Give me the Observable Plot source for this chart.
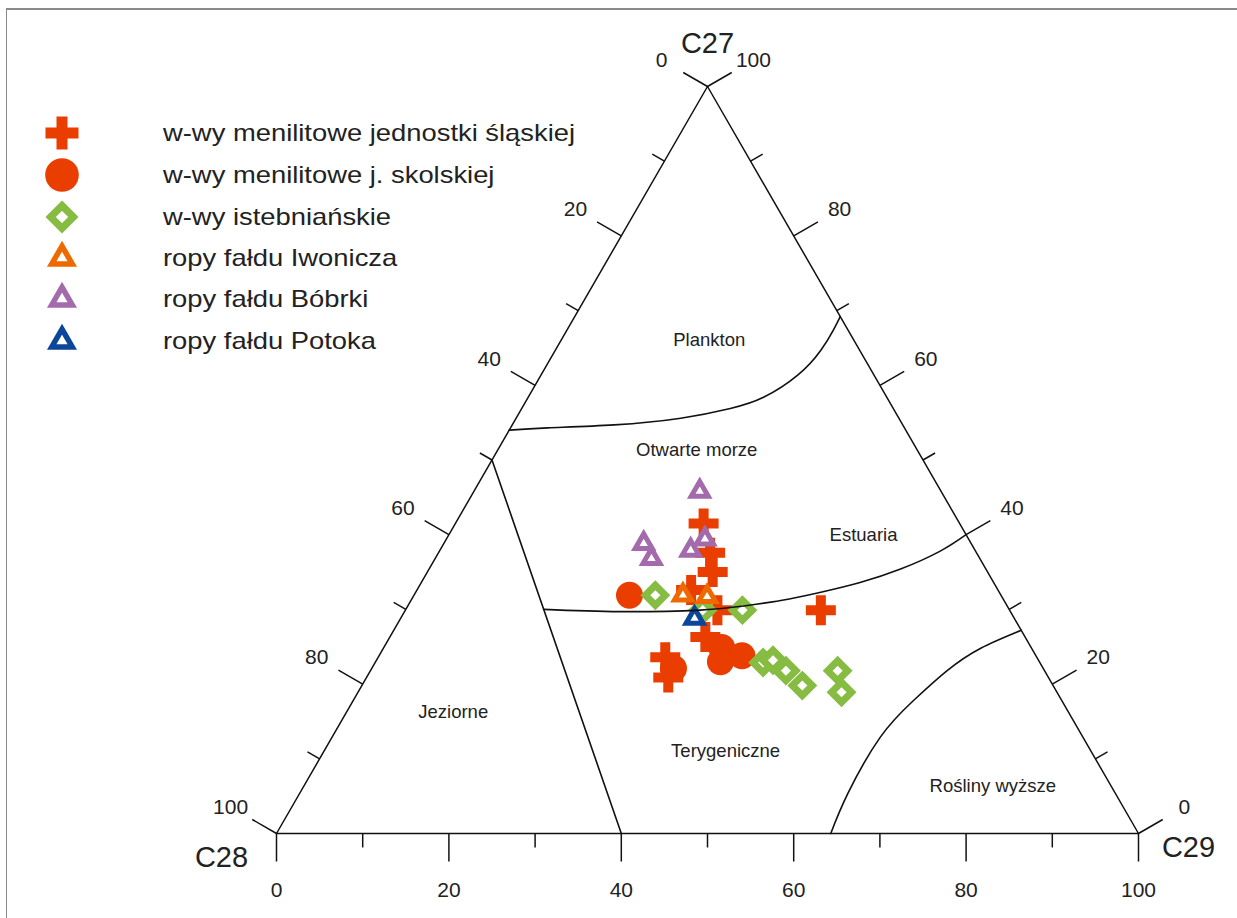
<!DOCTYPE html>
<html>
<head>
<meta charset="utf-8">
<script src="https://cdn.jsdelivr.net/npm/d3@7"></script>
<script src="https://cdn.jsdelivr.net/npm/@observablehq/plot@0.6"></script>
<style>
html,body{margin:0;padding:0;background:#fff;}
#wrap{position:relative;width:1237px;height:918px;overflow:hidden;font-family:"Liberation Sans",Arial,sans-serif;background:#fff;}
#chart{position:absolute;left:0;top:0;}
#border{position:absolute;left:6px;top:8px;width:1400px;height:1100px;border-top:2px solid #8a8a8a;border-left:1.5px solid #8a8a8a;pointer-events:none;}
.lg{position:absolute;left:0;width:620px;height:40px;}
.lg svg{position:absolute;left:42px;top:0;}
.lg span{position:absolute;left:163px;top:0;line-height:40px;font-size:24px;color:#222;white-space:nowrap;transform:scaleX(1.14);transform-origin:0 50%;}
</style>
</head>
<body>
<div id="wrap"><div id="chart"></div><div id="legend"></div><div id="border"></div></div>
<script>
// ---------- data (ternary: [C27, C28, C29] in %) ----------
const seriesNames = [
  "w-wy menilitowe jednostki śląskiej",
  "w-wy menilitowe j. skolskiej",
  "w-wy istebniańskie",
  "ropy fałdu Iwonicza",
  "ropy fałdu Bóbrki",
  "ropy fałdu Potoka"
];
const slaskie = [
  [41.5, 29.7, 28.8], [37.6, 30.9, 31.5], [35.0, 31.9, 33.1], [32.6, 35.6, 31.8],
  [29.9, 33.9, 36.2], [29.9, 21.9, 48.2], [26.3, 37.1, 36.6], [23.6, 43.1, 33.3],
  [20.9, 44.1, 35.0]
];
const skolskie = [
  [31.9, 43.1, 25.0], [22.1, 42.9, 35.0], [24.9, 35.9, 39.2], [23.0, 37.0, 40.0],
  [23.8, 34.1, 42.1]
];
const istebnianskie = [
  [31.9, 40.1, 28.0], [29.9, 35.6, 34.5], [29.9, 31.0, 39.1], [22.9, 32.1, 45.0],
  [23.2, 30.8, 46.0], [21.8, 30.0, 48.2], [19.8, 29.1, 51.1], [21.8, 24.0, 54.2],
  [18.9, 25.0, 56.1]
];
const iwonicz = [[31.9, 36.9, 31.2], [31.7, 34.2, 34.1]];
const bobrka = [
  [45.8, 28.0, 26.2], [38.8, 38.0, 23.2], [36.8, 38.1, 25.1], [37.9, 33.0, 29.1],
  [39.4, 30.6, 30.0]
];
const potok = [[28.8, 37.1, 34.1]];

// region boundaries
const jeziorneLine = [[50, 50, 0], [0, 60, 40]];
const terygeniczneLine = [
  [30, 54, 16], [29.7, 45.3, 25], [29.9, 35.9, 34.2], [30.4, 31, 38.6], [31.2, 25.9, 42.9],
  [32.3, 20.7, 47], [33.6, 15.5, 50.9], [35.4, 9.9, 54.7], [37.8, 4.1, 58.1], [40, 0, 60]
];
const planktonLine = [
  [54, 46, 0], [54.3, 41.4, 4.3], [54.7, 33.5, 11.8], [55.6, 25.3, 19.1], [56.9, 18.9, 24.2],
  [58.4, 14.3, 27.3], [61.4, 8.8, 29.8], [64.7, 4.5, 30.8], [67.4, 1.7, 30.9], [69.2, 0, 30.8]
];
const roslinyLine = [
  [0, 35.7, 64.3], [5.4, 31, 63.6], [12.9, 23.5, 63.6], [17.8, 17.2, 65], [21.8, 11.3, 66.9],
  [24.8, 5.9, 69.3], [27.2, 0, 72.8]
];
const regionNames = ["Plankton", "Otwarte morze", "Estuaria", "Jeziorne", "Terygeniczne", "Rośliny wyższe"];
const regionPos = [[66.0, 16.8, 17.2], [51.3, 25.6, 23.1], [40.0, 11.9, 48.1], [16.2, 71.4, 12.4], [11.0, 42.4, 46.6], [6.4, 13.7, 79.9]];
const tickValues = [0, 10, 20, 30, 40, 50, 60, 70, 80, 90, 100];
const tickLabels = ["0", "20", "40", "60", "80", "100"];
const vertexNames = ["C27", "C28", "C29"];

// ---------- geometry ----------
const SQ = Math.sqrt(3) / 2;
const toXY = ([a, b, c]) => { const s = a + b + c; a = a / s * 100; c = c / s * 100; return {x: c + a / 2, y: a * SQ}; };
const colors = ["#ea3d00", "#ea3d00", "#86bc41", "#ee6a00", "#a36bab", "#0b469b"];

const crossSym = {draw(p, size) { const a = Math.sqrt(size / Math.PI), b = a / 3;
  p.moveTo(-b, -a); p.lineTo(b, -a); p.lineTo(b, -b); p.lineTo(a, -b); p.lineTo(a, b); p.lineTo(b, b);
  p.lineTo(b, a); p.lineTo(-b, a); p.lineTo(-b, b); p.lineTo(-a, b); p.lineTo(-a, -b); p.lineTo(-b, -b); p.closePath(); }};
const diamondSym = {draw(p, size) { const r = Math.sqrt(size / Math.PI);
  p.moveTo(0, -r); p.lineTo(r, 0); p.lineTo(0, r); p.lineTo(-r, 0); p.closePath(); }};
const triSym = {draw(p, size) { const h = Math.sqrt(size / Math.PI), inr = h / Math.sqrt(3);
  p.moveTo(0, -2 * inr); p.lineTo(h, inr); p.lineTo(-h, inr); p.closePath(); }};

const pts = (arr) => arr.map(toXY);

// ticks
const mjLen = 3.25, mnLen = 1.62;
const edges = [
  {pos: v => toXY([0, 100 - v, v]), n: [0, -1], lab: 6.55},
  {pos: v => toXY([100 - v, v, 0]), n: [-SQ, 0.5], lab: 6.15},
  {pos: v => toXY([v, 0, 100 - v]), n: [SQ, 0.5], lab: 6.15}
];
const ticks = [], labels = [];
for (const e of edges) {
  for (const v of tickValues) {
    const p = e.pos(v), L = v % 20 === 0 ? mjLen : mnLen;
    ticks.push({x1: p.x, y1: p.y, x2: p.x + e.n[0] * L, y2: p.y + e.n[1] * L});
    if (v % 20 === 0) labels.push({x: p.x + e.n[0] * e.lab, y: p.y + e.n[1] * e.lab, text: tickLabels[v / 20]});
  }
}
const frame = [[0, 100, 0], [0, 0, 100], [100, 0, 0], [0, 100, 0]].map(toXY);
const regions = regionPos.map((r, i) => ({...toXY(r), text: regionNames[i]}));
const V = [toXY([100, 0, 0]), toXY([0, 100, 0]), toXY([0, 0, 100])];

const lineOpts = {x: "x", y: "y", stroke: "#111", strokeWidth: 1.6};
const chart = Plot.plot({
  width: 1237, height: 918,
  marginLeft: 276, marginRight: 99, marginTop: 86, marginBottom: 85,
  x: {domain: [0, 100], axis: null},
  y: {domain: [0, 100 * SQ], axis: null},
  style: {background: "transparent", fontFamily: "'Liberation Sans', Arial, sans-serif", color: "#222"},
  marks: [
    Plot.line(frame, {...lineOpts, strokeWidth: 1.5}),
    Plot.link(ticks, {x1: "x1", y1: "y1", x2: "x2", y2: "y2", stroke: "#111", strokeWidth: 1.5}),
    Plot.text(labels, {x: "x", y: "y", text: "text", fontSize: 21, fill: "#222"}),
    Plot.text([V[0]], {x: "x", y: "y", text: () => vertexNames[0], dy: -43, fontSize: 29, fill: "#222"}),
    Plot.text([V[1]], {x: "x", y: "y", text: () => vertexNames[1], dx: -55, dy: 24, fontSize: 29, fill: "#222"}),
    Plot.text([V[2]], {x: "x", y: "y", text: () => vertexNames[2], dx: 50, dy: 14, fontSize: 29, fill: "#222"}),
    Plot.text(regions, {x: "x", y: "y", text: "text", fontSize: 18.5, fill: "#222"}),
    Plot.dot(pts(slaskie), {x: "x", y: "y", r: 15, symbol: crossSym, fill: colors[0], stroke: "none"}),
    Plot.dot(pts(skolskie), {x: "x", y: "y", r: 13.5, symbol: "circle", fill: colors[1], stroke: "none"}),
    Plot.dot(pts(istebnianskie), {x: "x", y: "y", r: 10, symbol: diamondSym, fill: "white", stroke: colors[2], strokeWidth: 7, strokeLinejoin: "miter"}),
    Plot.dot(pts(iwonicz), {x: "x", y: "y", r: 8.5, symbol: triSym, fill: "white", stroke: colors[3], strokeWidth: 5, strokeLinejoin: "miter"}),
    Plot.dot(pts(bobrka), {x: "x", y: "y", r: 8.5, symbol: triSym, fill: "white", stroke: colors[4], strokeWidth: 5, strokeLinejoin: "miter"}),
    Plot.dot(pts(potok), {x: "x", y: "y", r: 8.5, symbol: triSym, fill: "white", stroke: colors[5], strokeWidth: 5, strokeLinejoin: "miter"}),
    Plot.line(pts(jeziorneLine), lineOpts),
    Plot.line(pts(terygeniczneLine), {...lineOpts, curve: "natural"}),
    Plot.line(pts(planktonLine), {...lineOpts, curve: "natural"}),
    Plot.line(pts(roslinyLine), {...lineOpts, curve: "natural"})
  ]
});
document.getElementById("chart").appendChild(chart);

// ---------- legend ----------
const legendSvg = [
  c => `<path d="M-5.5,-16.5H5.5V-5.5H16.5V5.5H5.5V16.5H-5.5V5.5H-16.5V-5.5H-5.5Z" fill="${c}"/>`,
  c => `<circle r="16.8" fill="${c}"/>`,
  c => `<path d="M0,-11.3L11.3,0L0,11.3L-11.3,0Z" fill="white" stroke="${c}" stroke-width="7.4" stroke-linejoin="miter"/>`,
  c => `<path d="M0,-11.8L10.25,5.9L-10.25,5.9Z" fill="white" stroke="${c}" stroke-width="5.5" stroke-linejoin="miter"/>`,
  c => `<path d="M0,-11.8L10.25,5.9L-10.25,5.9Z" fill="white" stroke="${c}" stroke-width="5.5" stroke-linejoin="miter"/>`,
  c => `<path d="M0,-11.8L10.25,5.9L-10.25,5.9Z" fill="white" stroke="${c}" stroke-width="5.5" stroke-linejoin="miter"/>`
];
const rowY = [133, 175, 217, 258, 299, 341];
const lg = document.getElementById("legend");
seriesNames.forEach((name, i) => {
  const row = document.createElement("div");
  row.className = "lg";
  row.style.top = (rowY[i] - 20) + "px";
  row.innerHTML = `<svg width="40" height="40" viewBox="-20 -20 40 40">${legendSvg[i](colors[i])}</svg><span>${name}</span>`;
  lg.appendChild(row);
});
</script>
</body>
</html>
